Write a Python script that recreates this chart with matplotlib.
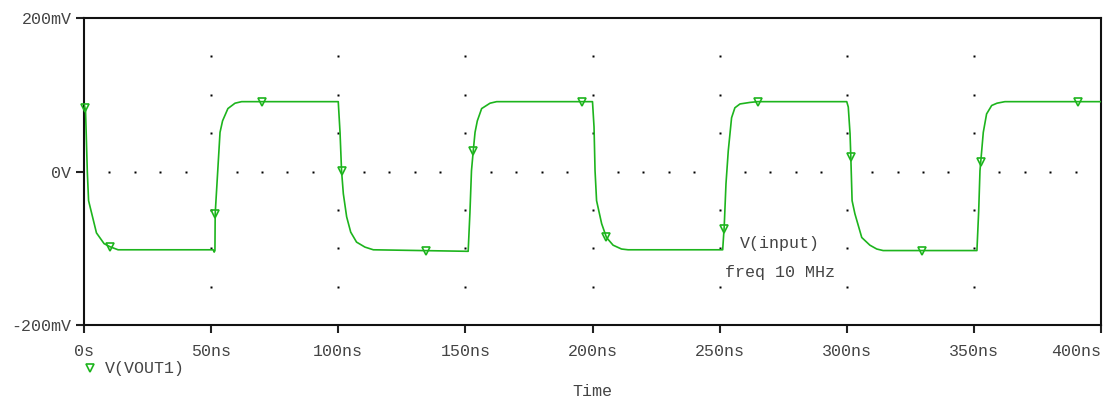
import numpy as np
import matplotlib
matplotlib.use("Agg")
import matplotlib.pyplot as plt

# Transient waveform V(VOUT1): time in ns, voltage in mV
t_ns = [0, 0.6, 1.3, 1.8, 4.9, 7.9, 10.2, 13.4,
        50.8, 51.2, 51.5, 51.6, 53.5, 54.5, 56.6, 59.4, 62.0,
        100.0, 100.7, 101.3, 102.0, 103.3, 104.9, 107.2, 110.5, 113.8,
        151.1, 151.8, 152.4, 153.1, 153.8, 154.7, 156.4, 159.7, 162.3,
        200.0, 200.6, 201.0, 201.6, 203.6, 205.5, 208.1, 211.4, 214.0,
        251.2, 251.8, 252.5, 253.4, 254.7, 256.0, 258.0, 261.9, 265.0,
        300.0, 300.6, 301.3, 301.6, 302.1, 303.2, 305.9, 309.1, 311.8, 314.3,
        351.2, 351.9, 352.4, 353.7, 355.0, 357.0, 359.1, 362.2,
        400.0]
v_mV = [88, 80, 0, -38, -80, -94, -98, -102,
        -102, -105, -103, -55, 51, 66, 82, 89, 91,
        91, 51, 1, -29, -59, -79, -92, -98.5, -102,
        -104, -53, 1, 27, 51, 66, 82, 89, 91,
        91, 58, 1, -38, -68, -86, -96, -101, -102,
        -102, -72, -16, 27, 70, 83, 88, 90, 91,
        91, 84, 49, 19, -38, -55, -86, -96, -101, -103,
        -103, -51, 1, 51, 75, 86, 89, 91,
        91]

# Times at which the trace symbol is drawn
marker_t_ns = [0.4, 10.2, 51.6, 70.0, 101.3, 134.5, 153.1, 195.9,
               205.4, 251.75, 265.1, 301.6, 329.6, 352.7, 391.0]

x_ticks = [0, 50, 100, 150, 200, 250, 300, 350, 400]
x_labels = ["0s", "50ns", "100ns", "150ns", "200ns", "250ns", "300ns", "350ns", "400ns"]
y_ticks = [-200, 0, 200]
y_labels = ["-200mV", "0V", "200mV"]

GREEN = "#1db41d"
TEXT = "#444444"
FONT = "Liberation Mono"

plt.rcParams["font.family"] = [FONT, "DejaVu Sans Mono"]

fig = plt.figure(figsize=(11.05, 4.0), dpi=100)
ax = fig.add_axes([84 / 1105, 1 - 325 / 400, (1101 - 84) / 1105, (325 - 18) / 400])

# dotted grid: 50 mV steps on the 50 ns columns, 10 ns steps on the 0 V row
gx, gy = [], []
for xc in x_ticks[1:-1]:
    for yv in [-150, -100, -50, 50, 100, 150]:
        gx.append(xc)
        gy.append(yv)
for xv in range(10, 400, 10):
    if xv % 50:
        gx.append(xv)
        gy.append(0)
ax.plot(gx, gy, linestyle="none", marker="s", ms=1.6, mfc="black", mec="none", zorder=1)

ax.plot(t_ns, v_mV, color=GREEN, lw=1.2, zorder=3)
mv = np.interp(marker_t_ns, t_ns, v_mV)
ax.plot(marker_t_ns, mv, linestyle="none", marker="v", ms=6, mfc="none",
        mec=GREEN, mew=1.2, zorder=4, clip_on=False)

ax.set_xlim(0, 400)
ax.set_ylim(-200, 200)
ax.set_xticks(x_ticks)
ax.set_xticklabels(x_labels)
ax.set_yticks(y_ticks)
ax.set_yticklabels(y_labels)
ax.tick_params(axis="both", direction="out", length=6, width=1.5, color="#222222",
               labelsize=12, labelcolor=TEXT)
ax.tick_params(axis="x", pad=8)
ax.tick_params(axis="y", pad=3)
ax.get_xticklabels()[-1].set_horizontalalignment("right")
for s in ax.spines.values():
    s.set_linewidth(1.5)
    s.set_color("#111111")

ax.text(273.7, -94, "V(input)", ha="center", va="center", fontsize=12, color=TEXT)
ax.text(273.7, -131, "freq 10 MHz", ha="center", va="center", fontsize=12, color=TEXT)

# legend entry and axis title
fig.lines.append(matplotlib.lines.Line2D([90 / 1105], [1 - 368 / 400], marker="v", ms=6,
                                          mfc="none", mec=GREEN, mew=1.2, linestyle="none",
                                          transform=fig.transFigure))
fig.text(105 / 1105, 1 - 368 / 400, "V(VOUT1)", ha="left", va="center", fontsize=12, color=TEXT)
fig.text(592 / 1105, 1 - 391 / 400, "Time", ha="center", va="center", fontsize=12, color=TEXT)

fig.savefig("out.png", dpi=100)
